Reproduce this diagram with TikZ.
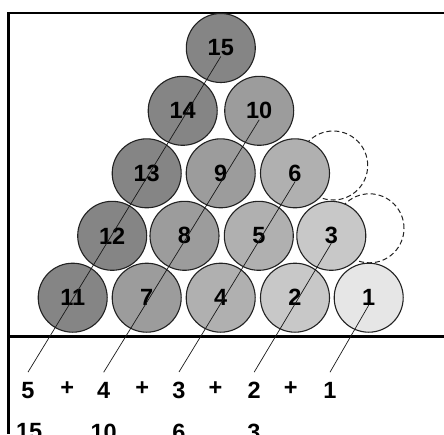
\documentclass[tikz,border=0pt]{standalone}
\usepackage{fontspec}
\setmainfont{Liberation Sans}
\definecolor{dA}{HTML}{858585}
\definecolor{dB}{HTML}{9C9C9C}
\definecolor{dC}{HTML}{B0B0B0}
\definecolor{dD}{HTML}{C8C8C8}
\definecolor{dE}{HTML}{E6E6E6}
\definecolor{edge}{HTML}{222222}
\begin{document}
\begin{tikzpicture}[x=1pt,y=-1pt,
  ball/.style={circle, draw=edge, line width=1.1pt, minimum size=69pt, inner sep=0pt,
    font=\fontsize{23.5}{26}\selectfont\bfseries},
  ghost/.style={circle, draw=edge, dash pattern=on 5pt off 3pt, line width=1pt,
    minimum size=69pt, inner sep=0pt},
  num/.style={inner sep=0pt, font=\fontsize{23.5}{26}\selectfont\bfseries},
  diag/.style={line width=0.7pt, draw=black!90},
  frameline/.style={line width=2.4pt, draw=black}]
\useasboundingbox (0,0) rectangle (444,434);
\clip (0,0) rectangle (444,434);
\fill[white] (0,0) rectangle (444,434);
% frame and base line
\coordinate (tr) at (444,12.7);
\coordinate (tl) at (8.3,12.7);
\coordinate (bl) at (8.3,434);
\coordinate (gl) at (8.3,336.5);
\coordinate (gr) at (444,336.5);
\draw[frameline] (tr) -- (tl) -- (bl);
\draw[frameline] (gl) -- (gr);
% dashed ghost circles
\node[ghost] (g1) at (333.2,165.5) {};
\node[ghost] (g2) at (369.5,228.3) {};
% balls
\node[ball, fill=dA] (c11) at (72.7,297.7) {11};
\node[ball, fill=dB] (c7)  at (146.7,297.7) {7};
\node[ball, fill=dC] (c4)  at (220.7,297.7) {4};
\node[ball, fill=dD] (c2)  at (295,297.7) {2};
\node[ball, fill=dE] (c1)  at (368.7,297.7) {1};
\node[ball, fill=dA] (c12) at (112.2,235.8) {12};
\node[ball, fill=dB] (c8)  at (184.5,235.8) {8};
\node[ball, fill=dC] (c5)  at (258.8,235.8) {5};
\node[ball, fill=dD] (c3)  at (331.3,235.8) {3};
\node[ball, fill=dA] (c13) at (146.7,173.3) {13};
\node[ball, fill=dB] (c9)  at (220.7,173.3) {9};
\node[ball, fill=dC] (c6)  at (295,173.3) {6};
\node[ball, fill=dA] (c14) at (182.7,110.8) {14};
\node[ball, fill=dB] (c10) at (259.2,110.8) {10};
\node[ball, fill=dA] (c15) at (220.8,48) {15};
% sum row
\node[num] (s5) at (28,390.5) {5};
\node[num] (p1) at (67.2,389) {+};
\node[num] (s4) at (103.7,390.5) {4};
\node[num] (p2) at (142.2,389) {+};
\node[num] (s3) at (179,390.5) {3};
\node[num] (p3) at (215.5,389) {+};
\node[num] (s2) at (254.2,390.5) {2};
\node[num] (p4) at (290.8,389) {+};
\node[num] (s1) at (330,390.5) {1};
% totals row (cut off at the bottom, as in the reference)
\node[num] (t15) at (29.2,432) {15};
\node[num] (t10) at (103.7,432) {10};
\node[num] (t6)  at (179,432) {6};
\node[num] (t3)  at (254,432) {3};
% diagonals
\draw[diag] ([yshift=-8.5pt]c15.center) -- ([yshift=10pt]s5.north);
\draw[diag] ([yshift=-9pt]c10.center) -- ([yshift=10pt]s4.north);
\draw[diag] ([yshift=-8.5pt]c6.center) -- ([yshift=10pt]s3.north);
\draw[diag] ([yshift=-7.5pt]c3.center) -- ([yshift=10pt]s2.north);
\draw[diag] ([yshift=-7.5pt]c1.center) -- ([yshift=10pt]s1.north);
\end{tikzpicture}
\end{document}
